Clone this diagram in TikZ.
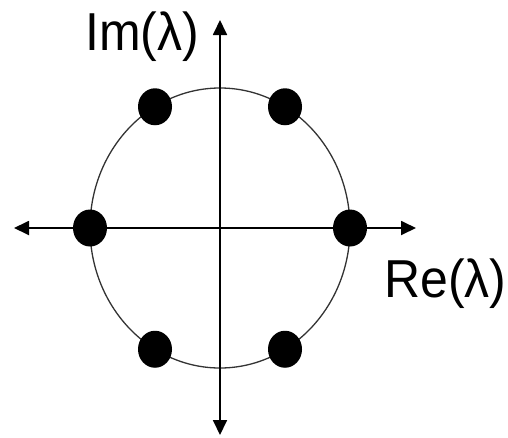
\documentclass[tikz,border=0pt]{standalone}
\usepackage{fontspec}
\setmainfont{Liberation Sans}
\usepackage{tikz}
\usetikzlibrary{arrows.meta,shapes.geometric}
\definecolor{RimGray}{HTML}{333333}

\begin{document}
\begin{tikzpicture}[x=1pt,y=-1pt,
  ax/.style={-{Triangle[length=15pt,width=14pt]},line width=1.8pt},
  rim/.style={line width=1.3pt,color=RimGray},
  eig/.style={ellipse,fill=black,inner sep=0pt,minimum width=34pt,minimum height=37pt},
  lbl/.style={anchor=base west,inner sep=0pt,font=\fontsize{49}{58}\selectfont}
]
  \useasboundingbox (0,0) rectangle (508,437);
  \coordinate (O) at (220,228);
  \coordinate (W) at (14,228);
  \coordinate (E) at (416,228);
  \coordinate (N) at (220,20);
  \coordinate (S) at (220,435);
  \draw[rim] (O) ellipse [x radius=130,y radius=140];
  \foreach \t in {W,E,N,S}
    {\draw[ax] (O) -- (\t);}
  \foreach \a in {0,60,...,300}
    {\node[eig] (e\a) at ({220+130*cos(\a)},{228-140*sin(\a)}) {};}
  \node[lbl] (im) at (85,50) {\scalebox{1.02}[1.09]{Im(λ)}};
  \node[lbl] (re) at (384,297) {\scalebox{1.02}[1.09]{Re(λ)}};
\end{tikzpicture}
\end{document}
